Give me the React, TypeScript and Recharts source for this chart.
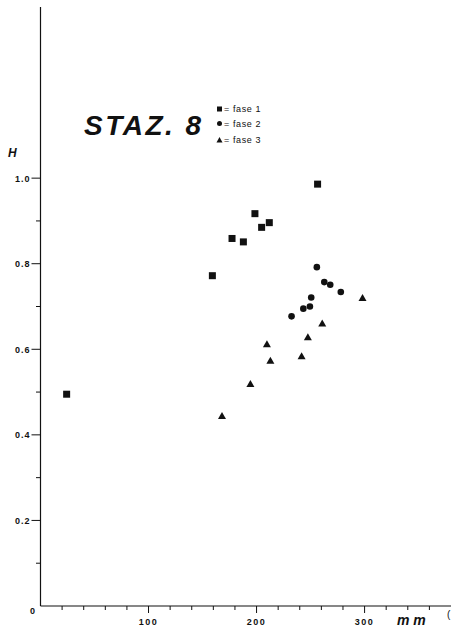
import React from 'react';
import { ScatterChart, Scatter, XAxis, YAxis, Customized } from 'recharts';

const fase1 = [
  { x: 24.2, y: 0.495 },
  { x: 159.1, y: 0.772 },
  { x: 177.3, y: 0.859 },
  { x: 187.8, y: 0.851 },
  { x: 198.5, y: 0.917 },
  { x: 204.7, y: 0.885 },
  { x: 211.8, y: 0.896 },
  { x: 256.5, y: 0.986 },
];

const fase2 = [
  { x: 255.8, y: 0.792 },
  { x: 262.7, y: 0.757 },
  { x: 268.2, y: 0.751 },
  { x: 278.0, y: 0.734 },
  { x: 250.6, y: 0.721 },
  { x: 243.3, y: 0.695 },
  { x: 249.4, y: 0.7 },
  { x: 232.4, y: 0.677 },
];

const fase3 = [
  { x: 168.0, y: 0.444 },
  { x: 194.3, y: 0.519 },
  { x: 209.6, y: 0.612 },
  { x: 212.8, y: 0.573 },
  { x: 241.7, y: 0.584 },
  { x: 247.5, y: 0.628 },
  { x: 260.8, y: 0.66 },
  { x: 298.1, y: 0.72 },
];

const xTicks = [20, 40, 60, 80, 100, 120, 140, 160, 180, 200, 220, 240, 260, 280, 300, 320, 340, 360];
const xLabels = [100, 200, 300];
const yTicks = [0.1, 0.2, 0.3, 0.4, 0.5, 0.6, 0.7, 0.8, 0.9, 1.0];
const yLabels = ['0.2', '0.4', '0.6', '0.8', '1.0'];

const FONT = '"Liberation Sans", Arial, sans-serif';
const INK = '#111';

const XTick = (props: any) => {
  const { x, y, payload } = props;
  const v = payload.value;
  const major = xLabels.includes(v);
  return (
    <g>
      <line x1={x} x2={x} y1={y} y2={y + (major ? 7 : 4)} stroke={INK} strokeWidth={1} />
      {major && (
        <text x={x} y={y + 19} textAnchor="middle" fontFamily={FONT} fontWeight="bold" fontSize={9} letterSpacing={1.5} fill={INK}>
          {String(v)}
        </text>
      )}
    </g>
  );
};

const YTick = (props: any) => {
  const { x, y, payload } = props;
  const v = payload.value;
  const label = v.toFixed(1);
  const major = yLabels.includes(label);
  return (
    <g>
      <line x1={x - (major ? 9 : 4.5)} x2={x} y1={y} y2={y} stroke={INK} strokeWidth={1} />
      {major && (
        <text x={x - 10} y={y + 3.5} textAnchor="end" fontFamily={FONT} fontWeight="bold" fontSize={9} letterSpacing={1} fill={INK}>
          {label}
        </text>
      )}
    </g>
  );
};

const Square = (p: any) => <rect x={p.cx - 3.5} y={p.cy - 3.5} width={7} height={7} fill={INK} />;
const Dot = (p: any) => <circle cx={p.cx} cy={p.cy} r={3.3} fill={INK} />;
const Tri = (p: any) => (
  <polygon points={`${p.cx},${p.cy - 4} ${p.cx - 4},${p.cy + 3} ${p.cx + 4},${p.cy + 3}`} fill={INK} />
);

const Labels = () => (
  <g fontFamily={FONT} fill={INK}>
    <text x={84} y={135} fontSize={28} fontWeight="bold" fontStyle="italic" letterSpacing={2.5}>STAZ. 8</text>
    <text x={8} y={157} fontSize={12} fontWeight="bold" fontStyle="italic">H</text>
    <text x={397} y={625} fontSize={14} fontWeight="bold" fontStyle="italic">m m</text>
    <text x={30} y={614} fontSize={9} fontWeight="bold">0</text>
    <text x={447} y={618} fontSize={10}>(</text>
    <rect x={217} y={106.5} width={5} height={5} fill={INK} />
    <circle cx={219.5} cy={123.5} r={2.5} fill={INK} />
    <polygon points="219.5,137 216.5,142.5 222.5,142.5" fill={INK} />
    <text x={224} y={112} fontSize={9} letterSpacing={0.6}>= fase  1</text>
    <text x={224} y={127} fontSize={9} letterSpacing={0.6}>= fase  2</text>
    <text x={224} y={143} fontSize={9} letterSpacing={0.6}>= fase  3</text>
  </g>
);

export default function App() {
  return (
    <div style={{ position: 'absolute', left: 0, top: 0, width: 451, height: 639, background: '#fff' }}>
      <ScatterChart width={451} height={639} margin={{ top: 7, right: 0, bottom: 0, left: 0 }}>
        <XAxis
          type="number"
          dataKey="x"
          domain={[0, 380]}
          ticks={xTicks}
          interval={0}
          height={33}
          tickLine={false}
          tickSize={0}
          tickMargin={0}
          tick={<XTick />}
          axisLine={{ stroke: INK, strokeWidth: 1.2 }}
          allowDataOverflow
        />
        <YAxis
          type="number"
          dataKey="y"
          domain={[0, 1.4]}
          ticks={yTicks}
          interval={0}
          width={40.5}
          tickLine={false}
          tickSize={0}
          tickMargin={0}
          tick={<YTick />}
          axisLine={{ stroke: INK, strokeWidth: 1.2 }}
          allowDataOverflow
        />
        <Scatter data={fase1} shape={<Square />} isAnimationActive={false} />
        <Scatter data={fase2} shape={<Dot />} isAnimationActive={false} />
        <Scatter data={fase3} shape={<Tri />} isAnimationActive={false} />
        <Customized component={Labels} />
      </ScatterChart>
    </div>
  );
}
